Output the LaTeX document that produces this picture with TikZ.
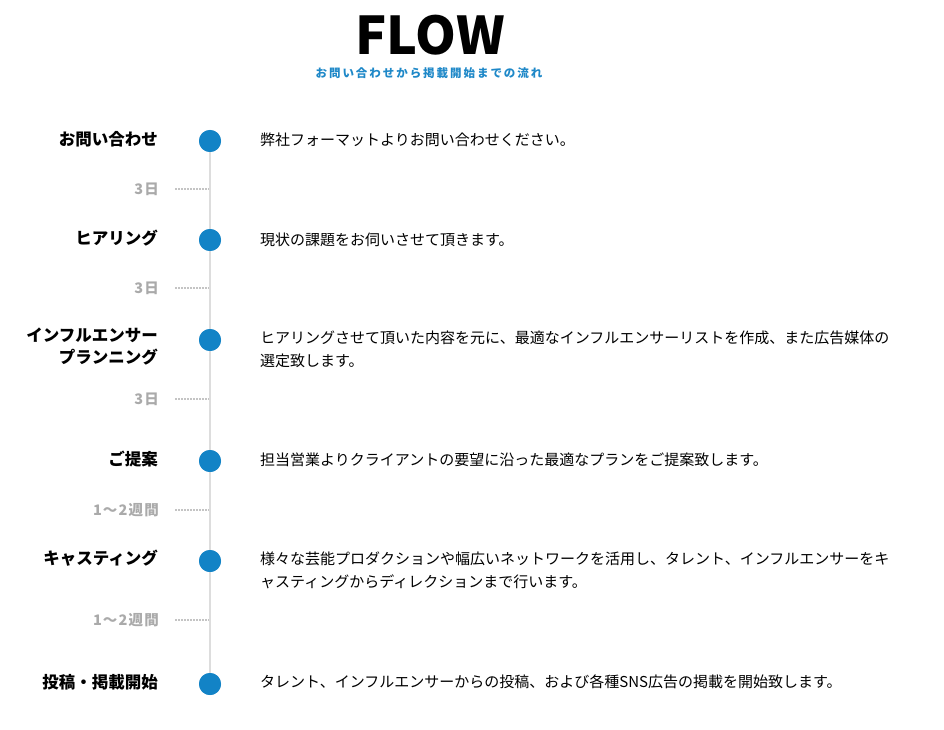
\documentclass[tikz,border=0pt]{standalone}
\usepackage{fontspec}
\setmainfont{Noto Sans CJK JP}
\usetikzlibrary{positioning}
\definecolor{flowblue}{HTML}{1283C6}
\definecolor{subblue}{HTML}{1E88C8}
\definecolor{delaygray}{HTML}{AAAAAA}
\definecolor{linegray}{HTML}{DDDDDD}
\definecolor{dotgray}{HTML}{C4C4C4}

\begin{document}
\begin{tikzpicture}[x=1pt,y=-1pt]
    \tikzstyle{point}=[circle,fill=flowblue,minimum size=22pt,inner sep=0pt]
    \tikzstyle{stage}=[anchor=east,inner sep=0pt,align=right,font=\fontsize{16.5}{22}\selectfont\bfseries]
    \tikzstyle{duration}=[anchor=east,inner sep=0pt,text=delaygray,font=\fontsize{14.5}{16}\selectfont\bfseries\addfontfeature{LetterSpace=8}]
    \tikzstyle{descr}=[anchor=west,inner sep=0pt,align=left,font=\fontsize{15}{23}\selectfont]
    \tikzstyle{dots}=[dotgray,line width=1.5pt,dash pattern=on 1.5pt off 1.5pt]

\useasboundingbox[fill=white] (0,0) rectangle (944,730);

% Titre
\node[anchor=base,inner sep=0pt,font=\fontsize{52}{56}\selectfont\bfseries] (T) at (430,55) {FLOW};
\node[inner sep=0pt,text=subblue,font=\fontsize{11.5}{14}\selectfont\bfseries\addfontfeature{LetterSpace=17}] (ST) at (429,73) {お問い合わせから掲載開始までの流れ};

% Points
\node[point] (P-1) at (210,141) {};
\node[point] (P-2) at (210,240) {};
\node[point] (P-3) at (210,340) {};
\node[point] (P-4) at (210,461) {};
\node[point] (P-5) at (210,561) {};
\node[point] (P-6) at (210,684) {};

% Ligne
\draw[linegray,line width=2pt] (P-1.center) -- (P-6.center);
\node[point] at (P-1) {};
\node[point] at (P-2) {};
\node[point] at (P-3) {};
\node[point] at (P-4) {};
\node[point] at (P-5) {};
\node[point] at (P-6) {};

% Etapes
\node[stage] (S-1) at (158,139) {お問い合わせ};
\node[stage] (S-2) at (158,238) {ヒアリング};
\node[stage] (S-3) at (158,347) {インフルエンサー\\プランニング};
\node[stage] (S-4) at (158,459) {ご提案};
\node[stage] (S-5) at (158,558) {キャスティング};
\node[stage] (S-6) at (158,682) {投稿・掲載開始};

% Durees
\node[duration] (D-1) at (159,189) {3日};
\node[duration] (D-2) at (159,288) {3日};
\node[duration] (D-3) at (159,399) {3日};
\node[duration] (D-4) at (159,510) {1〜2週間};
\node[duration] (D-5) at (159,620) {1〜2週間};

\coordinate (A-1) at (175,189); \coordinate (B-1) at (209,189);
\coordinate (A-2) at (175,288); \coordinate (B-2) at (209,288);
\coordinate (A-3) at (175,399); \coordinate (B-3) at (209,399);
\coordinate (A-4) at (175,510); \coordinate (B-4) at (209,510);
\coordinate (A-5) at (175,620); \coordinate (B-5) at (209,620);

 \draw[dots] (A-1) -- (B-1);
 \draw[dots] (A-2) -- (B-2);
 \draw[dots] (A-3) -- (B-3);
 \draw[dots] (A-4) -- (B-4);
 \draw[dots] (A-5) -- (B-5);

% Descriptions
\node[descr] (C-1) at (260,140) {弊社フォーマットよりお問い合わせください。};
\node[descr] (C-2) at (260,240) {現状の課題をお伺いさせて頂きます。};
\node[descr] (C-3) at (260,349.5) {ヒアリングさせて頂いた内容を元に、最適なインフルエンサーリストを作成、また広告媒体の\\選定致します。};
\node[descr] (C-4) at (260,460) {担当営業よりクライアントの要望に沿った最適なプランをご提案致します。};
\node[descr] (C-5) at (260,570) {様々な芸能プロダクションや幅広いネットワークを活用し、タレント、インフルエンサーをキ\\ャスティングからディレクションまで行います。};
\node[descr] (C-6) at (260,682) {タレント、インフルエンサーからの投稿、および各種SNS広告の掲載を開始致します。};

\end{tikzpicture}
\end{document}
